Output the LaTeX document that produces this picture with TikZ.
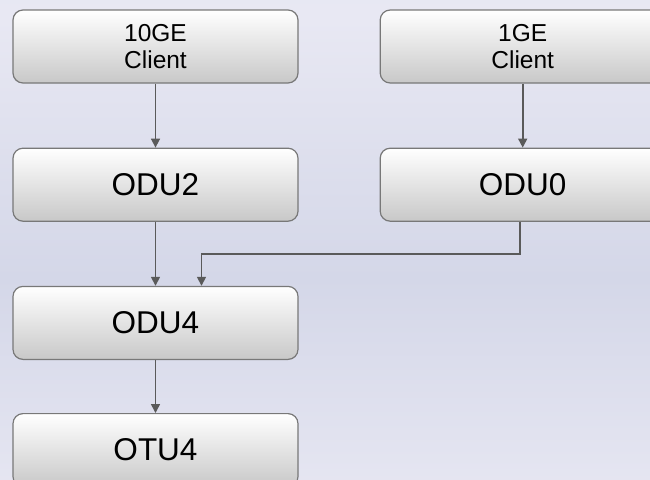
\documentclass[tikz,border=0pt]{standalone}
\usepackage{fontspec}
\setmainfont{Liberation Sans}
\usetikzlibrary{arrows.meta, positioning, shadings}

\definecolor{bgdark}{RGB}{212,215,232}
\definecolor{bglight}{RGB}{232,232,243}
\definecolor{bgtop}{RGB}{224,226,239}
\definecolor{boxline}{RGB}{120,120,120}
\definecolor{boxshade}{RGB}{200,200,200}
\definecolor{linkgray}{RGB}{90,90,90}

\pgfdeclareverticalshading{backdrop}{100bp}{color(0bp)=(bgdark); color(21bp)=(bglight); color(46bp)=(bgdark); color(73bp)=(bglight); color(100bp)=(bgtop)}

\begin{document}
\begin{tikzpicture}[
    x=1pt, y=1pt,
    node distance=64pt and 81pt,
    block/.style={rectangle, draw=boxline, line width=1.2pt, rounded corners=10pt, minimum width=285pt, minimum height=73pt, inner sep=0pt, align=center, top color=white, bottom color=boxshade, font=\fontsize{31.5}{33}\selectfont},
    client/.style={block, font=\fontsize{24.5}{27}\selectfont},
    arrow/.style={-{Triangle[length=9pt, width=9pt]}, line width=1.6pt, draw=linkgray}
]
    \useasboundingbox (0,0) rectangle (650,-479);
    \shade[shading=backdrop] (0,0) rectangle (650,-479);

    % Row 1: clients
    \node[client] (ge10) at (155.5,-46.5) {10GE\\Client};
    \node[client, right=of ge10] (ge1) {1GE\\Client};

    % Row 2: low order ODUs
    \node[block, below=of ge10] (odu2) {ODU2};
    \node[block, below=of ge1] (odu0) {ODU0};

    % Row 3 + 4: ODU4 into OTU4
    \node[block, below=of odu2] (odu4) {ODU4};
    \node[block, below=53pt of odu4] (otu4) {OTU4};

    % Arrows
    \draw[arrow] (ge10) -- (odu2);
    \draw[arrow] (ge1) -- (odu0);
    \draw[arrow] (odu2) -- (odu4);
    \draw[arrow] ([xshift=-3pt]odu0.south) -- ++(0,-32) -| ([xshift=46pt]odu4.north);
    \draw[arrow] (odu4) -- (otu4);

\end{tikzpicture}
\end{document}
